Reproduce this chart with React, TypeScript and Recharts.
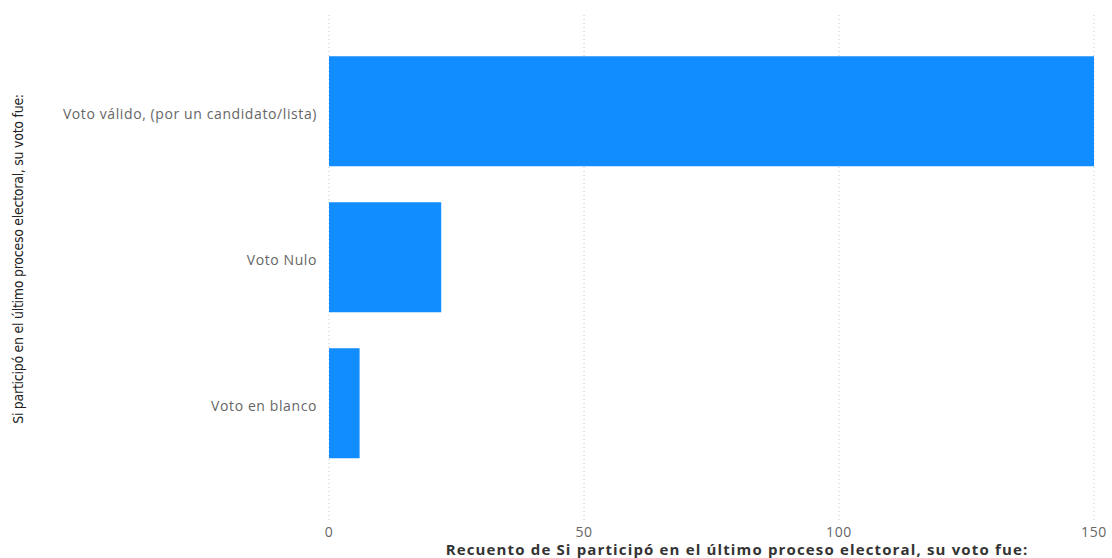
import React from 'react';
import { BarChart, Bar, XAxis, YAxis, CartesianGrid } from 'recharts';

const categories = ['Voto válido, (por un candidato/lista)', 'Voto Nulo', 'Voto en blanco'];
const counts = [150, 22, 6];
const xTicks = [0, 50, 100, 150];
const xTitle = 'Recuento de Si participó en el último proceso electoral, su voto fue:';
const yTitle = 'Si participó en el último proceso electoral, su voto fue:';

const data = categories.map((c, i) => ({ name: c, value: counts[i] }));

export default function App() {
  return (
    <div style={{ position: 'absolute', left: 0, top: 0, background: '#fff' }}>
      <BarChart
        width={1112}
        height={558}
        data={data}
        layout="vertical"
        margin={{ top: 15, right: 18, bottom: 0, left: 0 }}
        barCategoryGap="12.5%"
      >
        <CartesianGrid vertical horizontal={false} stroke="#c8c8c8" strokeDasharray="1 3" />
        <XAxis
          type="number"
          domain={[0, 150]}
          ticks={xTicks}
          height={35}
          axisLine={false}
          tickLine={false}
          tickSize={0}
          tickMargin={4}
          tick={{ fill: '#666', fontSize: 14, fontFamily: 'Open Sans', letterSpacing: 0.6 }}
          label={(props: any) => (
            <text x={737} y={555} textAnchor="middle" fill="#333" fontSize={15} fontWeight={700} fontFamily="Open Sans" letterSpacing={1.15}>
              {xTitle}
            </text>
          )}
        />
        <YAxis
          type="category"
          dataKey="name"
          width={329}
          padding={{ top: 23, bottom: 47 }}
          axisLine={false}
          tickLine={false}
          tickSize={0}
          tickMargin={12}
          tick={{ fill: '#666', fontSize: 14, fontFamily: 'Open Sans', letterSpacing: 0.6, dy: 3 }}
          label={(props: any) => (
            <text x={19} y={259} transform="rotate(-90 19 259)" textAnchor="middle" fill="#222" fontSize={14} fontFamily="DejaVu Sans Condensed" letterSpacing={-0.27} dominantBaseline="middle">
              {yTitle}
            </text>
          )}
        />
        <Bar dataKey="value" fill="#118DFF" isAnimationActive={false} />
      </BarChart>
    </div>
  );
}
